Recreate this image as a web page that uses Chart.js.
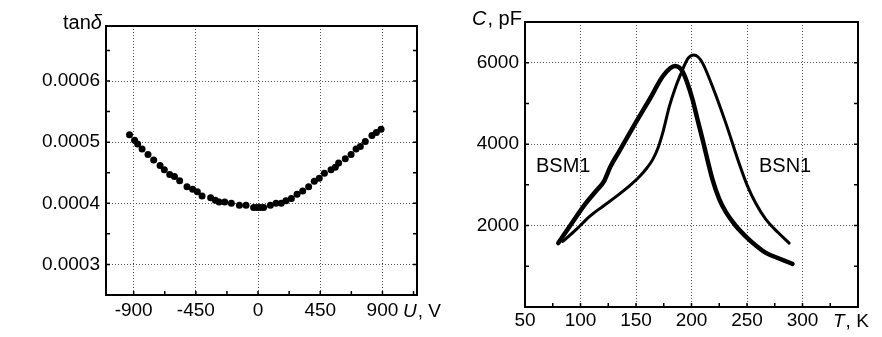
<!DOCTYPE html>
<html>
<head>
<meta charset="utf-8">
<script src="https://cdn.jsdelivr.net/npm/chart.js@4/dist/chart.umd.min.js"></script>
<style>
  body { margin: 0; background: #fff; }
  .box { position: absolute; top: 0; width: 441px; height: 337px; }
</style>
</head>
<body>
<div class="box" style="left:0"><canvas id="chartU" width="441" height="337"></canvas></div>
<div class="box" style="left:441px"><canvas id="chartT" width="441" height="337"></canvas></div>
<script>
// left panel: tan delta vs bias voltage
const uVolts = [-930,-893,-871,-839,-796,-755,-709,-678,-639,-605,-567,-514,-473,-439,-405,-343,-309,-282,-241,-193,-135,-87,-32,-8,16,40,89,130,168,202,241,282,323,366,407,443,480,528,559,583,631,673,709,740,776,824,856,890]
const tanDelta = [0.000512,0.000503,0.000497,0.000489,0.000480,0.000471,0.000462,0.000455,0.000447,0.000444,0.000437,0.000427,0.000423,0.000419,0.000412,0.000409,0.000405,0.000402,0.000402,0.000400,0.000397,0.000397,0.000393,0.000393,0.000393,0.000393,0.000397,0.000400,0.000400,0.000404,0.000408,0.000415,0.000420,0.000427,0.000436,0.000441,0.000449,0.000455,0.000459,0.000466,0.000473,0.000480,0.000489,0.000493,0.000501,0.000511,0.000516,0.000521]
const uTicks = [-900, -450, 0, 450, 900]
const tanTicks = [0.0003, 0.0004, 0.0005, 0.0006]

// right panel: capacitance vs temperature
const bsmT = [80,92,104,114,121,127,135,150,162,174,181,185,189,192,196,201,205,210,219,225,231,240,249,258,267,280,291]
const bsmC = [1570,2050,2520,2850,3080,3450,3830,4540,5090,5660,5870,5920,5880,5780,5520,5090,4650,4110,3120,2650,2330,1990,1730,1510,1330,1180,1060]
const bsnT = [84,96,108,120,132,143,153,160,165,170,174,180,185,190,197,202,206,210,219,231,243,250,258,267,278,288]
const bsnC = [1610,1900,2220,2470,2710,2950,3200,3420,3620,3920,4270,4920,5350,5700,6110,6190,6140,5990,5410,4510,3520,3000,2540,2150,1830,1570]
const tTicks = [50, 100, 150, 200, 250, 300]
const cTicks = [2000, 4000, 6000]

const FONT = "'Liberation Sans', Arial, sans-serif"

function pts(xs, ys) {
  return xs.map((x, i) => ({x: x, y: ys[i]}))
}

function drawRuns(ctx, runs, x, y, size) {
  ctx.textBaseline = "alphabetic"
  ctx.textAlign = "left"
  runs.forEach(r => {
    ctx.font = (r[1] ? "italic " : "") + size + "px " + FONT
    ctx.fillText(r[0], x, y)
    x += ctx.measureText(r[0]).width + (r[1] ? 1 : 0)
  })
}

// frame + inward ticks + axis titles
const frame = {
  id: "frame",
  afterDraw(chart, args, o) {
    const ctx = chart.ctx
    const a = chart.chartArea
    const xs = chart.scales.x, ys = chart.scales.y
    ctx.save()
    ctx.strokeStyle = "#000"
    ctx.lineWidth = 1.5
    ctx.beginPath()
    for (let v = o.xMinor[0]; v <= xs.max; v += o.xMinor[1]) {
      const px = xs.getPixelForValue(v)
      if (px < a.left + 1 || px > a.right - 1) continue
      ctx.moveTo(px, a.bottom); ctx.lineTo(px, a.bottom - 4)
    }
    for (let v = o.yMinor[0]; v <= ys.max; v += o.yMinor[1]) {
      const py = ys.getPixelForValue(v)
      if (py < a.top + 1 || py > a.bottom - 1) continue
      ctx.moveTo(a.left, py); ctx.lineTo(a.left + 4, py)
      ctx.moveTo(a.right, py); ctx.lineTo(a.right - 4, py)
    }
    ctx.stroke()
    ctx.lineWidth = 2
    ctx.strokeRect(a.left, a.top, a.right - a.left, a.bottom - a.top)
    ctx.fillStyle = "#000"
    o.texts.forEach(t => drawRuns(ctx, t.runs, t.x, t.y, t.size))
    ctx.restore()
  }
}

function axis(min, max, ticks, fmt, size, pad, fit) {
  return {
    type: "linear", min: min, max: max,
    afterBuildTicks: s => { s.ticks = ticks.map(v => ({value: v})) },
    afterFit: fit,
    ticks: { color: "#000", font: { family: FONT, size: size }, padding: pad, callback: fmt },
    grid: { color: "#555", lineWidth: 1, drawTicks: false, borderDash: [1, 2] },
    border: { display: false, dash: [1, 2] }
  }
}

new Chart(document.getElementById("chartU"), {
  type: "scatter",
  data: {
    datasets: [{
      label: "tan delta",
      data: pts(uVolts, tanDelta),
      backgroundColor: "#000",
      borderColor: "#000",
      pointRadius: 3.5,
      pointBorderWidth: 0
    }]
  },
  options: {
    responsive: false,
    animation: false,
    layout: { padding: { left: 0, right: 24, top: 26, bottom: 0 } },
    plugins: {
      legend: { display: false },
      tooltip: { enabled: false },
      frame: {
        xMinor: [-1125, 225], yMinor: [0.00025, 0.00005],
        texts: [
          { runs: [["tan", false], ["\u03b4", true]], x: 63, y: 29, size: 20 },
          { runs: [["U", true], [", V", false]], x: 403, y: 317, size: 19 }
        ]
      }
    },
    scales: {
      x: axis(-1100, 1150, uTicks, v => String(v), 19, 4, s => { s.height = 42 }),
      y: axis(0.00025, 0.00069, tanTicks, v => v.toFixed(4), 19, 6, s => { s.width = 106 })
    }
  },
  plugins: [frame]
})

new Chart(document.getElementById("chartT"), {
  type: "scatter",
  data: {
    datasets: [{
      label: "BSM1",
      data: pts(bsmT, bsmC),
      showLine: true,
      borderColor: "#000",
      borderWidth: 4.5,
      pointRadius: 0,
      tension: 0.4,
      cubicInterpolationMode: "monotone",
      borderJoinStyle: "round",
      borderCapStyle: "round"
    }, {
      label: "BSN1",
      data: pts(bsnT, bsnC),
      showLine: true,
      borderColor: "#000",
      borderWidth: 3,
      pointRadius: 0,
      tension: 0.4,
      cubicInterpolationMode: "monotone",
      borderJoinStyle: "round",
      borderCapStyle: "round"
    }]
  },
  options: {
    responsive: false,
    animation: false,
    layout: { padding: { left: 0, right: 24, top: 22, bottom: 0 } },
    plugins: {
      legend: { display: false },
      tooltip: { enabled: false },
      frame: {
        xMinor: [75, 25], yMinor: [1000, 1000],
        texts: [
          { runs: [["C", true], [", pF", false]], x: 31, y: 25, size: 20 },
          { runs: [["T", true], [", K", false]], x: 392, y: 327, size: 19 },
          { runs: [["BSM1", false]], x: 95, y: 172, size: 20 },
          { runs: [["BSN1", false]], x: 318, y: 172, size: 20 }
        ]
      }
    },
    scales: {
      x: axis(50, 350, tTicks, v => String(v), 19, 2, s => { s.height = 30 }),
      y: axis(0, 7000, cTicks, v => String(v), 19, 6, s => { s.width = 84 })
    }
  },
  plugins: [frame]
})
</script>
</body>
</html>
